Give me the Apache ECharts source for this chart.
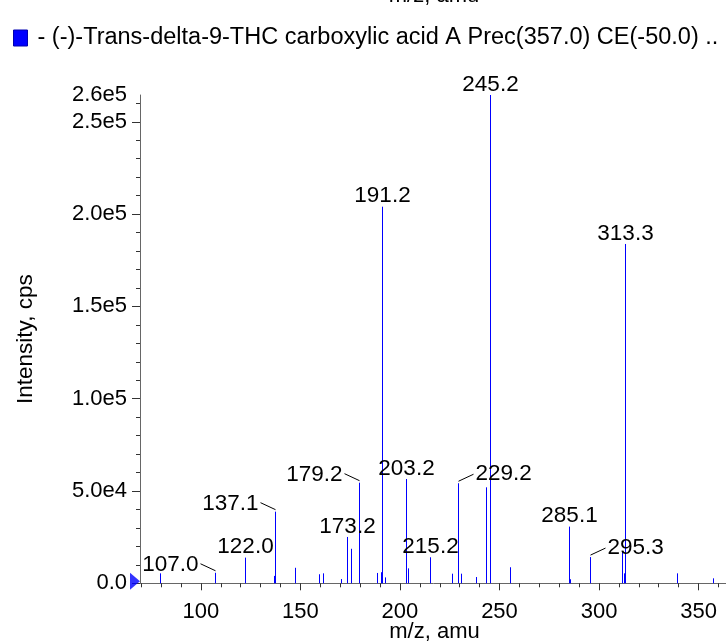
<!DOCTYPE html>
<html><head><meta charset="utf-8">
<script src="https://cdn.jsdelivr.net/npm/echarts@6/dist/echarts.min.js"></script>
<style>html,body{margin:0;padding:0;background:#fff}#c{width:726px;height:642px}</style>
</head><body><div id="c"></div>
<script>
// ---- data ----
const seriesName = '- (-)-Trans-delta-9-THC carboxylic acid A Prec(357.0) CE(-50.0) ..';
const mzValues = [79.3,107.0,122.0,136.5,137.1,147.3,159.4,161.4,170.4,173.2,175.5,179.2,188.5,190.5,191.2,192.4,203.2,204.1,215.2,226.2,229.2,230.5,238.2,243.2,245.2,255.2,285.1,285.6,295.3,311.3,312.5,313.3,339.3,357.4];
const intensities = [5400,5700,13900,4000,38800,8400,4900,5400,2300,25100,18700,54500,5600,6000,204000,3200,56500,8100,14100,5200,54200,5200,3400,52000,264500,8700,30700,2200,14200,17500,5400,183800,5400,2700];
const labeledPeaks = ['107.0','122.0','137.1','173.2','179.2','191.2','203.2','215.2','229.2','245.2','285.1','295.3','313.3'];
const xTickLabels = [100,150,200,250,300,350];
const xMinorTicks = [70,80,90,110,120,130,140,160,170,180,190,210,220,230,240,260,270,280,290,310,320,330,340,360];
const yTickLabels = [0,50000,100000,150000,200000,250000,264500];
const yMinorTicks = [10000,20000,30000,40000,60000,70000,80000,90000,110000,120000,130000,140000,160000,170000,180000,190000,210000,220000,230000,240000,260000];
const xRange = [69.4, 365.3];
const yRange = [0, 264500];
const xTitle = 'm/z, amu';
const yTitle = 'Intensity, cps';

// ---- styles ----
const FONT = '"Liberation Sans", Arial, Helvetica, sans-serif';
const labelSide = {'107.0':'left','137.1':'left','179.2':'left','229.2':'right','295.3':'right'};
const AXIS_COLOR = '#666';

const peaks = mzValues.map((m, i) => [m, intensities[i]]);
const labelData = peaks.filter(p => labeledPeaks.indexOf(p[0].toFixed(1)) >= 0);

const chart = echarts.init(document.getElementById('c'), null, {renderer: 'canvas'});
const yFmt = v => v === 0 ? '0.0' : v.toExponential(1).replace('+', '');

chart.setOption({
  animation: false,
  backgroundColor: '#fff',
  grid: {left: 140, right: -3, top: 95, bottom: 58.7, containLabel: false, outerBoundsMode: 'none'},
  legend: {
    data: [seriesName], left: 8, top: 21, icon: 'rect', itemWidth: 14, itemHeight: 16,
    textStyle: {fontFamily: FONT, fontSize: 23.5, color: '#000', padding: [0, 0, 0, 5]},
    itemStyle: {borderColor: '#0000b0', borderWidth: 1},
    selectedMode: false
  },
  graphic: [{
    type: 'text', x: 434, y: -15,
    style: {text: xTitle, font: '22px ' + FONT, fill: '#000', align: 'center', verticalAlign: 'top'}
  }],
  xAxis: [{
    type: 'value', min: xRange[0], max: xRange[1], position: 'bottom',
    name: xTitle, nameLocation: 'middle', nameGap: 38, nameMoveOverlap: false,
    nameTextStyle: {fontFamily: FONT, fontSize: 22, color: '#000'},
    axisLine: {show: true, lineStyle: {color: AXIS_COLOR, width: 1}},
    axisTick: {show: true, length: 7, customValues: xTickLabels, lineStyle: {color: '#333'}},
    axisLabel: {customValues: xTickLabels, margin: 18, fontFamily: FONT, fontSize: 22, color: '#000'},
    splitLine: {show: false}
  }, {
    type: 'value', min: xRange[0], max: xRange[1], position: 'bottom',
    axisLine: {show: false},
    axisTick: {show: true, length: 4, customValues: xMinorTicks, lineStyle: {color: '#333'}},
    axisLabel: {show: false},
    splitLine: {show: false}
  }],
  yAxis: [{
    type: 'value', min: yRange[0], max: yRange[1], position: 'left',
    name: yTitle, nameLocation: 'middle', nameGap: 103, nameMoveOverlap: false,
    nameTextStyle: {fontFamily: FONT, fontSize: 22.5, color: '#000'},
    axisLine: {show: true, lineStyle: {color: AXIS_COLOR, width: 1}},
    axisTick: {show: true, length: 8, customValues: yTickLabels.slice(0, 6), lineStyle: {color: '#333'}},
    axisLabel: {customValues: yTickLabels, formatter: yFmt, margin: 13, fontFamily: FONT, fontSize: 22, color: '#000'},
    splitLine: {show: false}
  }, {
    type: 'value', min: yRange[0], max: yRange[1], position: 'left',
    axisLine: {show: false},
    axisTick: {show: true, length: 4, customValues: yMinorTicks, lineStyle: {color: '#333'}},
    axisLabel: {show: false},
    splitLine: {show: false}
  }],
  series: [{
    name: seriesName, type: 'custom', xAxisIndex: 0, yAxisIndex: 0,
    itemStyle: {color: '#0000ff'},
    data: peaks,
    renderItem: function (params, api) {
      const x = api.value(0), y = api.value(1);
      const p0 = api.coord([x, 0]), p1 = api.coord([x, y]);
      const px = Math.round(p0[0]) + 0.5;
      return {type: 'line', shape: {x1: px, y1: p0[1], x2: px, y2: p1[1]},
        style: {stroke: '#0000ff', lineWidth: 1}};
    },
    z: 3
  }, {
    name: 'labels', type: 'custom', xAxisIndex: 0, yAxisIndex: 0,
    data: labelData, silent: true,
    renderItem: function (params, api) {
      const x = api.value(0), y = api.value(1);
      const p = api.coord([x, y]);
      const px = Math.round(p[0]) + 0.5;
      const txt = x.toFixed(1);
      const mode = labelSide[txt] || 'above';
      const font = '22.5px ' + FONT;
      if (mode === 'above') {
        return {type: 'text', style: {text: txt, x: px, y: p[1] - 10.5, align: 'center', verticalAlign: 'middle', font: font, fill: '#000'}};
      }
      const dir = mode === 'left' ? -1 : 1;
      return {type: 'group', children: [
        {type: 'line', shape: {x1: px, y1: p[1] - 2, x2: px + dir * 15, y2: p[1] - 9}, style: {stroke: '#000', lineWidth: 1}},
        {type: 'text', style: {text: txt, x: px + dir * 17, y: p[1] - (dir < 0 ? 8 : 9.5), align: dir < 0 ? 'right' : 'left', verticalAlign: 'middle', font: font, fill: '#000'}}
      ]};
    },
    z: 4
  }, {
    name: 'threshold', type: 'scatter', xAxisIndex: 0, yAxisIndex: 0,
    data: [[xRange[0], 0]], symbol: 'triangle', symbolRotate: -90, symbolSize: [17, 10],
    symbolOffset: [-5, -2], itemStyle: {color: '#0000ff'}, clip: false, silent: true, z: 5
  }]
});
</script>
</body></html>
